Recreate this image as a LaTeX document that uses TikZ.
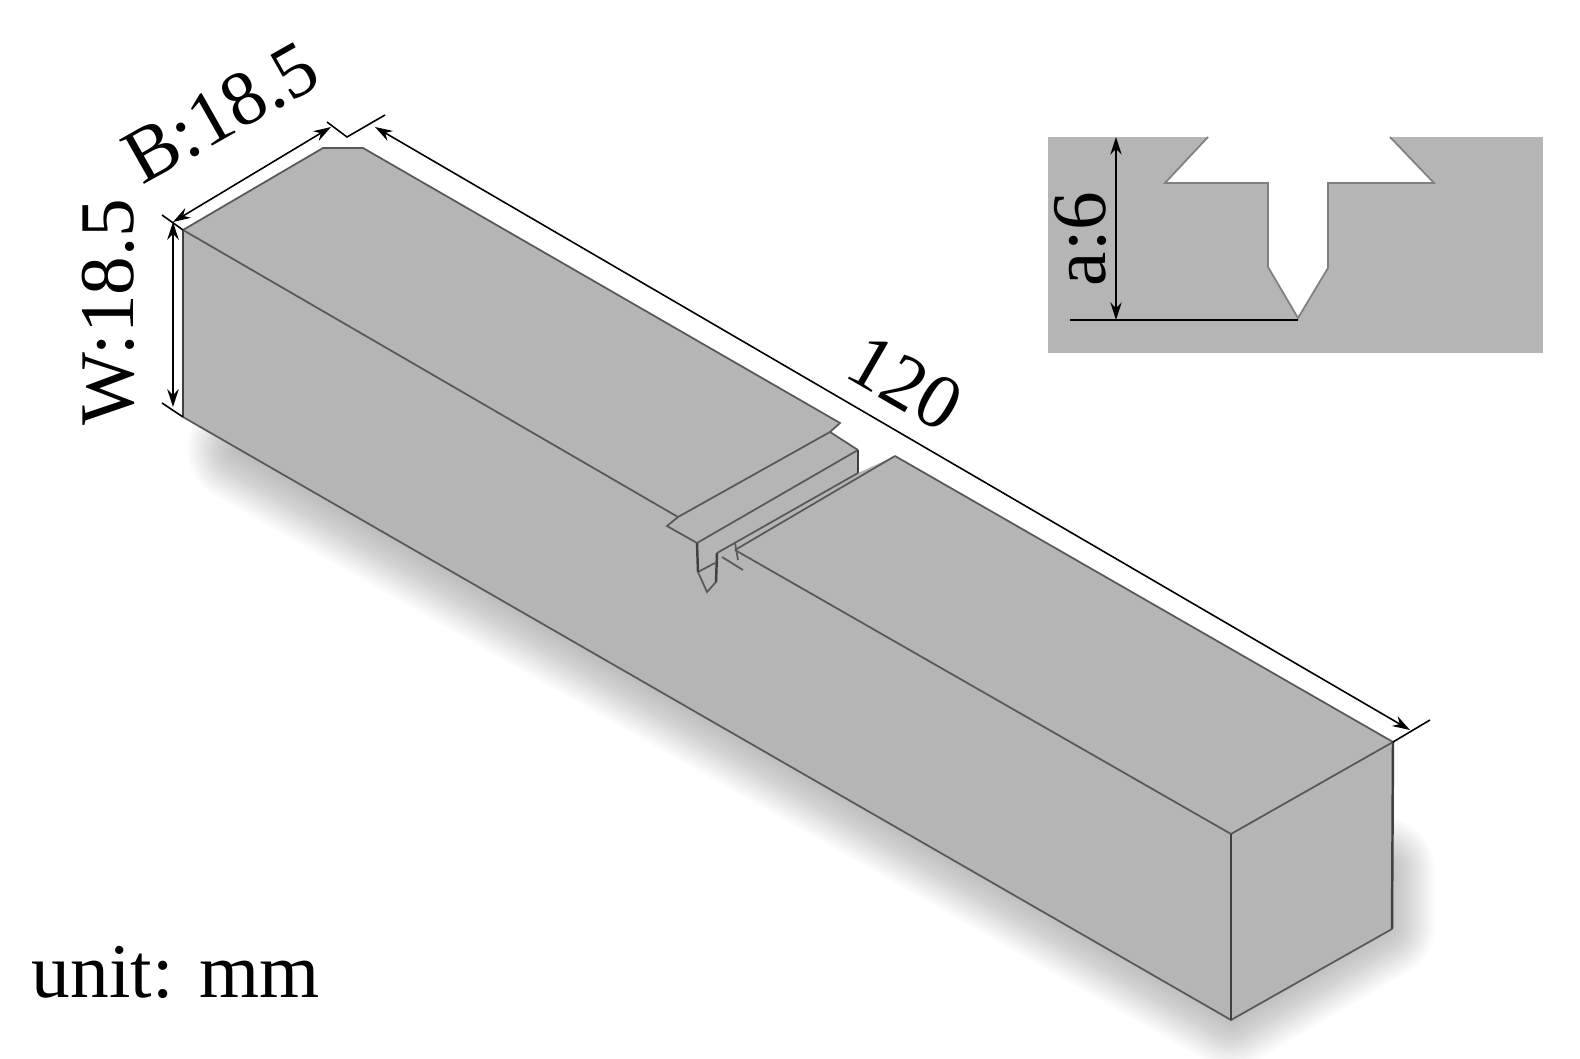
\documentclass[tikz,border=0pt]{standalone}
\usepackage{fontspec}
\setmainfont{Liberation Serif}
\usetikzlibrary{positioning, arrows.meta}

\begin{document}
\begin{tikzpicture}
	[x=0.1mm, y=-0.1mm,
	 edge/.style={draw=black!65, line width=0.5pt, line join=miter},
	 solid edge/.style={draw=black!75, line width=0.7pt},
	 dim/.style={draw=black, line width=0.45pt,
	             {Stealth[length=5pt, width=3.2pt]}-{Stealth[length=5pt, width=3.2pt]}},
	 tick/.style={draw=black, line width=0.45pt},
	 lbl/.style={inner sep=0, font=\fontsize{22}{22}\selectfont},
	 steel/.style={fill=black!29}]
	\useasboundingbox (0,0) rectangle (1580,1059);

	% block corners
	\coordinate (tl) at (183,230);
	\coordinate (bl) at (183,417);
	\coordinate (b1) at (323,148);
	\coordinate (b2) at (363,148);
	\coordinate (tr) at (1393,742);
	\coordinate (br) at (1392,929);
	\coordinate (tf) at (1231,834);
	\coordinate (bf) at (1231,1020);

	% notch on the top face
	\coordinate (n1) at (840,423);
	\coordinate (n2) at (830,432);
	\coordinate (n3) at (858,450);
	\coordinate (n4) at (858,473);
	\coordinate (n5) at (895,456);
	\coordinate (n6) at (678,517);
	\coordinate (n7) at (667,526);
	\coordinate (n8) at (697,543);
	\coordinate (n9) at (717,553);
	\coordinate (n10) at (735,550);

	% soft shadow
	\foreach \w in {10,14,...,106}
		\draw[black, opacity=0.0135, line width=\w*0.2845pt, line join=round, line cap=round]
			(240,449) -- (1231,1014) -- (1382,926) -- (1382,870);

	% block
	\fill[steel] (tl) -- (b1) -- (b2) -- (n1) -- (n2) -- (n3) -- (n4) -- (n5) -- (tr)
		-- (br) -- (bf) -- (bl) -- cycle;
	\draw[edge] (bl) -- (bf) -- (br);
	\draw[edge] (tl) -- (b1) -- (b2) -- (n1) -- (n2) -- (n3);
	\draw[edge] (n5) -- (tr) -- (tf) -- (n10);
	\draw[edge] (tl) -- (n6) -- (n2);
	\draw[edge] (n6) -- (n7) -- (n8) -- (n3);
	\draw[solid edge] (tl) -- (bl);
	\draw[solid edge] (tf) -- (bf);
	\draw[solid edge] (tr) -- (br);
	\draw[solid edge] (n3) -- (n4);

	% notch details
	\coordinate (c1) at (698,572);
	\coordinate (c2) at (707,592);
	\coordinate (c3) at (716,582);
	\coordinate (c4) at (715,563);
	\coordinate (c5) at (722,557);
	\coordinate (c6) at (743,570);
	\coordinate (c7) at (735,543);
	\coordinate (c8) at (738,560);
	\draw[edge] (n9) -- (n4);
	\draw[edge] (n10) -- (n5);
	\draw[edge] (c1) -- (c2) -- (c3);
	\draw[edge] (c1) -- (c4);
	\draw[edge] (c5) -- (c6);
	\draw[edge] (c7) -- (c8);
	\draw[solid edge] (n8) -- (c1);
	\draw[solid edge] (n9) -- (c3);

	% dimensions on the block
	\coordinate (wt) at (173,222);
	\coordinate (wb) at (173,407);
	\coordinate (bt) at (331,127);
	\coordinate (lt) at (375,127);
	\coordinate (lb) at (1410,730);
	\coordinate (e1) at (162,215);
	\coordinate (e2) at (327,122);
	\coordinate (e3) at (347,137);
	\coordinate (e4) at (385,115);
	\coordinate (e5) at (1430,720);
	\coordinate (e6) at (162,403);
	\draw[dim, line width=0.8pt] (wt) -- (wb);
	\draw[dim] (wt) -- (bt);
	\draw[dim] (lt) -- (lb);
	\draw[tick] (e1) -- (tl);
	\draw[tick] (e6) -- (bl);
	\draw[tick] (e2) -- (e3) -- (e4);
	\draw[tick] (tr) -- (e5);

	% inset section
	\fill[steel] (1048,137) rectangle (1543,353);
	\coordinate (s1) at (1208,137);
	\coordinate (s2) at (1165,183);
	\coordinate (s3) at (1268,183);
	\coordinate (s4) at (1268,267);
	\coordinate (s5) at (1298,318);
	\coordinate (s6) at (1328,268);
	\coordinate (s7) at (1328,183);
	\coordinate (s8) at (1434,183);
	\coordinate (s9) at (1390,137);
	\fill[white] (s1) -- (s2) -- (s3) -- (s4) -- (s5) -- (s6) -- (s7) -- (s8) -- (s9) -- cycle;
	\draw[edge, draw=black!50] (s1) -- (s2) -- (s3) -- (s4) -- (s5) -- (s6) -- (s7) -- (s8) -- (s9);
	\coordinate (at) at (1116,137);
	\coordinate (ab) at (1116,320);
	\coordinate (a0) at (1070,320);
	\coordinate (a1) at (1298,320);
	\draw[dim, line width=0.6pt] (at) -- (ab);
	\draw[tick, line width=0.6pt] (a0) -- (a1);

	% labels
	\node[lbl, rotate=90, anchor=base] (wlabel) at (133,312) {W:18.5};
	\node[lbl, rotate=29.5, anchor=base west] (blabel) at (142,186) {B:18.5};
	\node[lbl, rotate=-30, anchor=center] (llabel) at (905,383) {120};
	\node[lbl, rotate=90, anchor=base] (alabel) at (1105,239) {a:6};
	\node[lbl, anchor=base west] (unit) at (31,997) {unit: mm};
\end{tikzpicture}
\end{document}
